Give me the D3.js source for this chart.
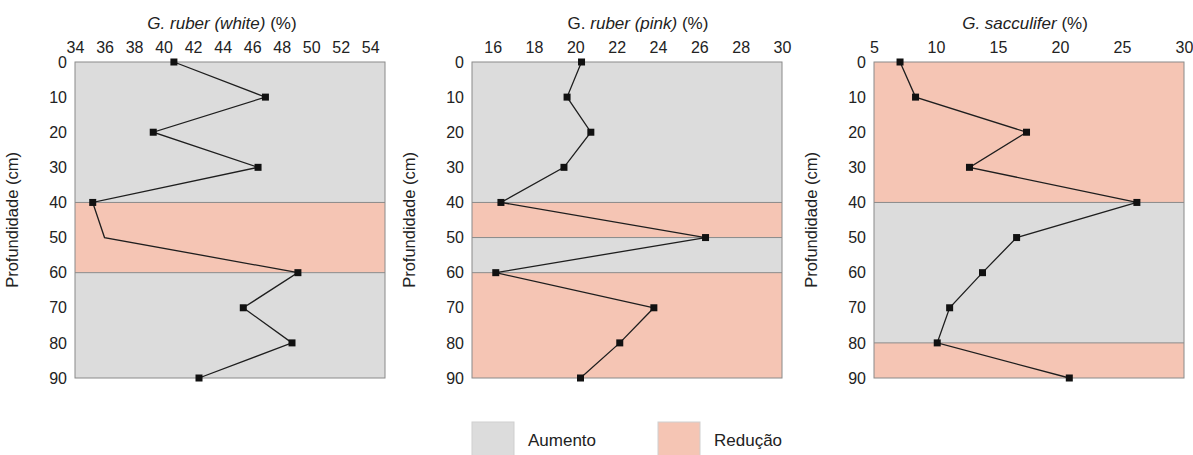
<!DOCTYPE html>
<html>
<head>
<meta charset="utf-8">
<script src="https://cdn.jsdelivr.net/npm/d3@7"></script>
<style>
  html, body { margin: 0; padding: 0; background: #fff; }
  svg { display: block; font-family: Arial, "Liberation Sans", sans-serif; }
</style>
</head>
<body>
<svg id="chart" width="1193" height="455"></svg>
<script>
// Depth of each sample (cm)
const depths = [0, 10, 20, 30, 40, 50, 60, 70, 80, 90];

// Relative abundance (%) per species
const ruberWhite = [40.7, 46.9, 39.3, 46.4, 35.2, 36.0, 49.1, 45.4, 48.7, 42.4];
const ruberPink = [20.3, 19.6, 20.75, 19.45, 16.4, 26.3, 16.15, 23.8, 22.15, 20.25];
const sacculifer = [7.1, 8.35, 17.3, 12.7, 26.2, 16.5, 13.75, 11.1, 10.1, 20.75];

// Samples shown as a bend only (no marker)
const ruberWhiteNoMarker = [50];

// Tick labels along the top axis
const ruberWhiteTicks = [34, 36, 38, 40, 42, 44, 46, 48, 50, 52, 54];
const ruberPinkTicks = [16, 18, 20, 22, 24, 26, 28, 30];
const sacculiferTicks = [5, 10, 15, 20, 25, 30];
const depthTicks = [0, 10, 20, 30, 40, 50, 60, 70, 80, 90];

// Shaded depth intervals: [top, bottom, class]
const ruberWhiteBands = [[0, 40, "Aumento"], [40, 60, "Redução"], [60, 90, "Aumento"]];
const ruberPinkBands = [[0, 40, "Aumento"], [40, 50, "Redução"], [50, 60, "Aumento"], [60, 90, "Redução"]];
const sacculiferBands = [[0, 40, "Redução"], [40, 80, "Aumento"], [80, 90, "Redução"]];

const legendLabels = ["Aumento", "Redução"];
const bandColor = d3.scaleOrdinal().domain(legendLabels).range(["#dcdcdc", "#f5c5b4"]);

const svg = d3.select("#chart");
const plotTop = 62, plotBottom = 378;
const textColor = "#222";

const panels = [
  { left: 75, right: 385, domain: [34, 55], values: ruberWhite, ticks: ruberWhiteTicks,
    bands: ruberWhiteBands, noMarker: ruberWhiteNoMarker, titleX: 222,
    title: [["G. ruber (white)", true], [" (%)", false]] },
  { left: 472, right: 782, domain: [15, 30], values: ruberPink, ticks: ruberPinkTicks,
    bands: ruberPinkBands, noMarker: [], titleX: 638,
    title: [["G. ", false], ["ruber (pink)", true], [" (%)", false]] },
  { left: 874, right: 1184, domain: [5, 30], values: sacculifer, ticks: sacculiferTicks,
    bands: sacculiferBands, noMarker: [], titleX: 1025,
    title: [["G. sacculifer", true], [" (%)", false]] }
];

const y = d3.scaleLinear().domain([0, 90]).range([plotTop, plotBottom]);

panels.forEach(p => {
  const x = d3.scaleLinear().domain(p.domain).range([p.left, p.right]);
  const g = svg.append("g");

  // depth bands
  g.selectAll("rect.band").data(p.bands).join("rect")
    .attr("class", "band")
    .attr("x", p.left).attr("width", p.right - p.left)
    .attr("y", d => y(d[0])).attr("height", d => y(d[1]) - y(d[0]))
    .attr("fill", d => bandColor(d[2]));

  // band boundaries
  const bounds = p.bands.slice(1).map(d => d[0]);
  g.selectAll("line.bound").data(bounds).join("line")
    .attr("x1", p.left).attr("x2", p.right)
    .attr("y1", d => y(d)).attr("y2", d => y(d))
    .attr("stroke", "#8a8a8a").attr("stroke-width", 1);

  // frame
  g.append("rect")
    .attr("x", p.left).attr("y", plotTop)
    .attr("width", p.right - p.left).attr("height", plotBottom - plotTop)
    .attr("fill", "none").attr("stroke", "#8a8a8a").attr("stroke-width", 1);

  // top axis labels
  const xAxis = d3.axisTop(x).tickValues(p.ticks).tickSize(0).tickPadding(9);
  const ax = g.append("g").attr("transform", `translate(0,${plotTop})`).call(xAxis);
  ax.select(".domain").remove();
  ax.selectAll("text").attr("font-size", 16).attr("fill", textColor)
    .attr("font-family", "Arial, 'Liberation Sans', sans-serif");

  // depth axis labels
  const yAxis = d3.axisLeft(y).tickValues(depthTicks).tickSize(0).tickPadding(8);
  const ay = g.append("g").attr("transform", `translate(${p.left},0)`).call(yAxis);
  ay.select(".domain").remove();
  ay.selectAll("text").attr("font-size", 16).attr("fill", textColor)
    .attr("font-family", "Arial, 'Liberation Sans', sans-serif");

  // axis title (depth)
  g.append("text")
    .attr("transform", `translate(${p.left - 57},${(plotTop + plotBottom) / 2}) rotate(-90)`)
    .attr("text-anchor", "middle").attr("font-size", 16.5).attr("fill", textColor)
    .text("Profundidade (cm)");

  // species title
  const t = g.append("text").attr("x", p.titleX).attr("y", 29)
    .attr("text-anchor", "middle").attr("font-size", 17).attr("fill", textColor);
  p.title.forEach(([s, it]) => t.append("tspan").attr("font-style", it ? "italic" : "normal").text(s));

  // profile line
  const pts = depths.map((d, i) => [p.values[i], d]);
  g.append("path").datum(pts)
    .attr("d", d3.line().x(d => x(d[0])).y(d => y(d[1])))
    .attr("fill", "none").attr("stroke", "#1e1e1e").attr("stroke-width", 1.3);

  g.selectAll("rect.mk").data(pts.filter(d => !p.noMarker.includes(d[1]))).join("rect")
    .attr("class", "mk")
    .attr("x", d => x(d[0]) - 3.5).attr("y", d => y(d[1]) - 3.5)
    .attr("width", 7).attr("height", 7).attr("fill", "#111");
});

// legend
const legend = svg.append("g");
const legendX = [472, 658];
legendLabels.forEach((lab, i) => {
  legend.append("rect")
    .attr("x", legendX[i]).attr("y", 422).attr("width", 42).attr("height", 40)
    .attr("fill", bandColor(lab)).attr("stroke", "#cfcfcf").attr("stroke-width", 1);
  legend.append("text")
    .attr("x", legendX[i] + 56).attr("y", 446)
    .attr("font-size", 17).attr("fill", textColor).text(lab);
});
</script>
</body>
</html>
